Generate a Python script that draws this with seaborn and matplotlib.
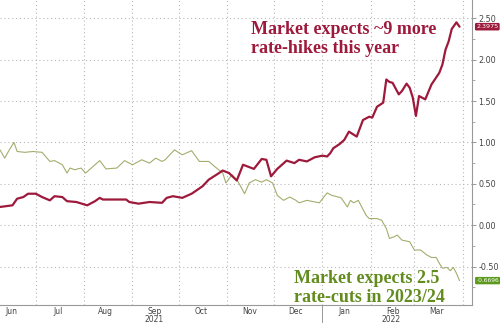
import matplotlib
matplotlib.use("Agg")
import matplotlib.pyplot as plt
import matplotlib.transforms as mtransforms
from matplotlib.ticker import MultipleLocator
import pandas as pd
import seaborn as sns

# ---- data ----
hike_dates = ["2021-06-08", "2021-06-16", "2021-06-19", "2021-06-23", "2021-06-26", "2021-07-01",
              "2021-07-05", "2021-07-10", "2021-07-13", "2021-07-18", "2021-07-21", "2021-07-27",
              "2021-08-03", "2021-08-08", "2021-08-11", "2021-08-13", "2021-08-17", "2021-08-28",
              "2021-08-30", "2021-09-05", "2021-09-12", "2021-09-20", "2021-09-23", "2021-09-27",
              "2021-10-03", "2021-10-09", "2021-10-16", "2021-10-20", "2021-10-25", "2021-10-29",
              "2021-11-02", "2021-11-07", "2021-11-11", "2021-11-18", "2021-11-23", "2021-11-26",
              "2021-11-29", "2021-12-03", "2021-12-09", "2021-12-14", "2021-12-17", "2021-12-22",
              "2021-12-27", "2022-01-01", "2022-01-04", "2022-01-06", "2022-01-08", "2022-01-12",
              "2022-01-15", "2022-01-18", "2022-01-23", "2022-01-27", "2022-01-31", "2022-02-02",
              "2022-02-05", "2022-02-09", "2022-02-11", "2022-02-13", "2022-02-15", "2022-02-19",
              "2022-02-21", "2022-02-24", "2022-02-26", "2022-02-28", "2022-03-02", "2022-03-04",
              "2022-03-08", "2022-03-12", "2022-03-17", "2022-03-19", "2022-03-21", "2022-03-23",
              "2022-03-25", "2022-03-28", "2022-03-30"]
hike_values = [0.22, 0.24, 0.32, 0.34, 0.38, 0.38,
               0.34, 0.30, 0.35, 0.34, 0.29, 0.28,
               0.24, 0.29, 0.33, 0.31, 0.31, 0.31,
               0.28, 0.26, 0.28, 0.27, 0.33, 0.35,
               0.33, 0.38, 0.47, 0.55, 0.61, 0.66,
               0.63, 0.54, 0.73, 0.68, 0.80, 0.79,
               0.59, 0.68, 0.78, 0.75, 0.79, 0.77,
               0.82, 0.84, 0.83, 0.87, 0.93, 0.98,
               1.03, 1.13, 1.07, 1.27, 1.31, 1.30,
               1.43, 1.48, 1.76, 1.73, 1.72, 1.58,
               1.62, 1.71, 1.66, 1.54, 1.32, 1.56,
               1.52, 1.70, 1.84, 1.94, 2.12, 2.22,
               2.37, 2.45, 2.3975]

cut_dates = ["2021-06-08", "2021-06-11", "2021-06-14", "2021-06-17", "2021-06-19", "2021-06-24",
             "2021-06-29", "2021-07-05", "2021-07-10", "2021-07-13", "2021-07-18", "2021-07-21",
             "2021-07-23", "2021-07-26", "2021-07-30", "2021-08-02", "2021-08-11", "2021-08-15",
             "2021-08-22", "2021-08-27", "2021-09-01", "2021-09-07", "2021-09-12", "2021-09-16",
             "2021-09-20", "2021-09-22", "2021-09-28", "2021-10-03", "2021-10-09", "2021-10-14",
             "2021-10-20", "2021-10-25", "2021-10-29", "2021-10-31", "2021-11-04", "2021-11-08",
             "2021-11-12", "2021-11-15", "2021-11-19", "2021-11-23", "2021-11-26", "2021-11-30",
             "2021-12-03", "2021-12-07", "2021-12-11", "2021-12-15", "2021-12-17", "2021-12-22",
             "2021-12-30", "2022-01-04", "2022-01-07", "2022-01-13", "2022-01-17", "2022-01-19",
             "2022-01-21", "2022-01-24", "2022-01-29", "2022-01-31", "2022-02-05", "2022-02-08",
             "2022-02-11", "2022-02-13", "2022-02-16", "2022-02-18", "2022-02-21", "2022-02-26",
             "2022-03-01", "2022-03-05", "2022-03-09", "2022-03-12", "2022-03-15", "2022-03-17",
             "2022-03-19", "2022-03-22", "2022-03-24", "2022-03-26", "2022-03-28", "2022-03-30"]
cut_values = [0.91, 0.81, 0.91, 1.00, 0.89, 0.88,
              0.89, 0.88, 0.77, 0.78, 0.73, 0.63,
              0.69, 0.67, 0.69, 0.63, 0.78, 0.68,
              0.69, 0.78, 0.73, 0.79, 0.75, 0.81,
              0.77, 0.79, 0.91, 0.85, 0.90, 0.77,
              0.77, 0.69, 0.63, 0.51, 0.61, 0.52,
              0.38, 0.51, 0.55, 0.52, 0.55, 0.51,
              0.36, 0.30, 0.34, 0.30, 0.27, 0.30,
              0.27, 0.39, 0.36, 0.33, 0.22, 0.30,
              0.27, 0.30, 0.12, 0.08, 0.08, 0.06,
              -0.04, -0.16, -0.14, -0.12, -0.18, -0.20,
              -0.30, -0.30, -0.36, -0.39, -0.39, -0.46,
              -0.52, -0.51, -0.55, -0.51, -0.58, -0.6696]

month_labels = ["Jun", "Jul", "Aug", "Sep", "Oct", "Nov", "Dec", "Jan", "Feb", "Mar"]
year_labels = ["2021", "2022"]
y_ticks = [-0.5, 0.0, 0.5, 1.0, 1.5, 2.0, 2.5]
last_hike = 2.3975
last_cut = -0.6696
hike_text = "Market expects ~9 more\nrate-hikes this year"
cut_text = "Market expects 2.5\nrate-cuts in 2023/24"

# ---- styling ----
RED = "#9e1a3c"
GREEN_LINE = "#a4ad6e"
GREEN_TEXT = "#638c1f"
GREEN_BOX = "#5c9a1c"
GRID = "#b8b8b8"
TXT = "#444444"

sns.set_style("white")
plt.rcParams["font.family"] = ["DejaVu Sans"]

hike = pd.DataFrame({"date": pd.to_datetime(hike_dates), "value": hike_values})
cut = pd.DataFrame({"date": pd.to_datetime(cut_dates), "value": cut_values})

fig = plt.figure(figsize=(5.0, 3.23), dpi=100)
ax = fig.add_axes([0.0, 0.056, 0.944, 0.944])

sns.lineplot(data=cut, x="date", y="value", ax=ax, color=GREEN_LINE, linewidth=0.8)
sns.lineplot(data=hike, x="date", y="value", ax=ax, color=RED, linewidth=1.6)

ax.set_xlim(pd.Timestamp("2021-06-08"), pd.Timestamp("2022-04-07"))
ax.set_ylim(-0.963, 2.72)
ax.set_xlabel("")
ax.set_ylabel("")

# y axis on the right
ax.yaxis.tick_right()
ax.set_yticks(y_ticks)
ax.set_yticklabels([f"{v:.2f}" for v in y_ticks])
ax.yaxis.set_minor_locator(MultipleLocator(0.25))
ax.tick_params(axis="y", which="major", direction="out", length=3, width=0.6,
               color="#888888", labelsize=5.8, labelcolor=TXT, pad=1.5, right=True, left=False)
ax.tick_params(axis="y", which="minor", direction="out", length=2, width=0.5,
               color="#888888", right=True, left=False)

# x axis: tick marks at month starts, labels mid-month
month_starts = pd.date_range("2021-07-01", "2022-04-01", freq="MS")
mid_months = [pd.Timestamp(f"{d.year}-{d.month:02d}-15") for d in
              pd.date_range("2021-06-01", "2022-03-01", freq="MS")]
ax.set_xticks(month_starts)
ax.set_xticklabels([])
ax.set_xticks(mid_months, minor=True)
ax.set_xticklabels(month_labels, minor=True)
ax.tick_params(axis="x", which="major", direction="out", length=3, width=0.6, color="#888888")
ax.tick_params(axis="x", which="minor", length=0, labelsize=5.5, labelcolor=TXT, pad=1.2)

# grid
ax.grid(True, which="major", axis="both", color=GRID, linestyle=(0, (1, 2.5)), linewidth=0.8)

for s in ["left", "top"]:
    ax.spines[s].set_visible(False)
for s in ["right", "bottom"]:
    ax.spines[s].set_color("#999999")
    ax.spines[s].set_linewidth(0.8)

# year labels and separator
tb = mtransforms.blended_transform_factory(ax.transData, ax.transAxes)
ax.text(pd.Timestamp("2021-09-15"), -0.047, year_labels[0], transform=tb, ha="center", va="center",
        fontsize=5.5, color=TXT)
ax.text(pd.Timestamp("2022-02-14"), -0.047, year_labels[1], transform=tb, ha="center", va="center",
        fontsize=5.5, color=TXT)
ax.plot([pd.Timestamp("2022-01-01")] * 2, [0, -0.065], transform=tb, color="#888888",
        linewidth=0.6, clip_on=False)

# annotations
ax.text(pd.Timestamp("2021-11-16"), 2.25, hike_text, color=RED, fontsize=13,
        fontweight="bold", family="Liberation Serif", ha="left", va="center", linespacing=1.15)
ax.text(pd.Timestamp("2021-12-14"), -0.76, cut_text, color=GREEN_TEXT, fontsize=13,
        fontweight="bold", family="Liberation Serif", ha="left", va="center", linespacing=1.15)

# last-value boxes
ty = mtransforms.blended_transform_factory(ax.transAxes, ax.transData)
ax.text(1.009, last_hike, f"{last_hike:.4f}", transform=ty, ha="left", va="center",
        fontsize=4.6, color="white",
        bbox=dict(boxstyle="round,pad=0.2,rounding_size=0.2", facecolor=RED, edgecolor="none"))
ax.text(1.009, last_cut, f"{last_cut:.4f}", transform=ty, ha="left", va="center",
        fontsize=4.3, color="white",
        bbox=dict(boxstyle="round,pad=0.2,rounding_size=0.2", facecolor=GREEN_BOX, edgecolor="none"))

fig.savefig("out.png", dpi=100)
